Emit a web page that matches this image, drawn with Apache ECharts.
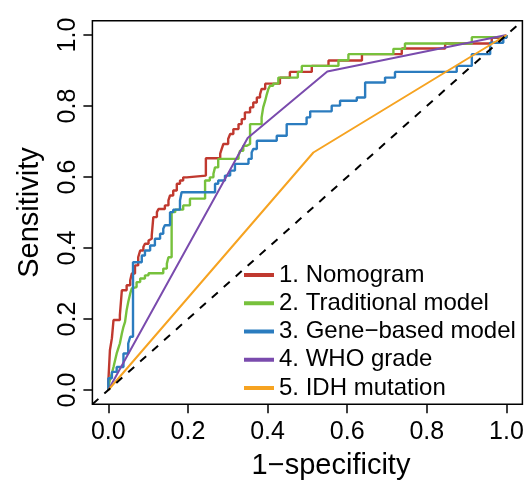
<!DOCTYPE html>
<html>
<head>
<meta charset="utf-8">
<script src="https://cdn.jsdelivr.net/npm/echarts@6/dist/echarts.min.js"></script>
<style>
  html, body { margin: 0; padding: 0; background: #fff; }
  #chart { width: 531px; height: 483px; }
</style>
</head>
<body>
<div id="chart"></div>
<script>
// ── Data ──────────────────────────────────────────────────────────────
// Step curves: x of each vertical riser and the sensitivity reached at its top
const nomogramFpr = [0, 0.004, 0.009, 0.013, 0.029, 0.034, 0.046, 0.055, 0.059, 0.067, 0.075, 0.080, 0.088, 0.092, 0.101, 0.105, 0.109, 0.113, 0.122, 0.126, 0.142, 0.151, 0.155, 0.163, 0.172, 0.180, 0.188, 0.197, 0.245, 0.281, 0.285, 0.289, 0.301, 0.306, 0.314, 0.327, 0.335, 0.343, 0.356, 0.364, 0.373, 0.381, 0.385, 0.394, 0.431, 0.456, 0.511, 0.553, 0.637, 0.737, 0.846, 0.963, 1];
const nomogramTpr = [0.023, 0.112, 0.146, 0.197, 0.211, 0.281, 0.295, 0.309, 0.328, 0.351, 0.374, 0.393, 0.403, 0.412, 0.421, 0.426, 0.435, 0.487, 0.501, 0.510, 0.520, 0.534, 0.548, 0.562, 0.581, 0.590, 0.599, 0.604, 0.653, 0.666, 0.680, 0.693, 0.707, 0.721, 0.735, 0.749, 0.763, 0.782, 0.796, 0.810, 0.824, 0.833, 0.848, 0.863, 0.880, 0.896, 0.913, 0.928, 0.946, 0.962, 0.976, 0.992, 1];

const traditionalFpr = [0, 0.004, 0.009, 0.013, 0.017, 0.021, 0.025, 0.029, 0.034, 0.038, 0.042, 0.046, 0.050, 0.055, 0.059, 0.063, 0.071, 0.080, 0.092, 0.101, 0.138, 0.147, 0.151, 0.159, 0.168, 0.188, 0.205, 0.243, 0.255, 0.264, 0.268, 0.276, 0.327, 0.331, 0.339, 0.348, 0.356, 0.385, 0.389, 0.394, 0.398, 0.402, 0.406, 0.414, 0.427, 0.476, 0.486, 0.578, 0.603, 0.716, 0.745, 0.913, 1];
const traditionalTpr = [0.009, 0.028, 0.047, 0.065, 0.084, 0.103, 0.117, 0.131, 0.159, 0.178, 0.192, 0.225, 0.248, 0.272, 0.286, 0.290, 0.304, 0.314, 0.323, 0.329, 0.342, 0.356, 0.374, 0.501, 0.508, 0.520, 0.539, 0.590, 0.599, 0.609, 0.627, 0.651, 0.660, 0.674, 0.688, 0.693, 0.749, 0.768, 0.796, 0.815, 0.833, 0.848, 0.857, 0.863, 0.880, 0.896, 0.913, 0.929, 0.946, 0.961, 0.976, 0.994, 1];

const geneFpr = [0, 0.009, 0.021, 0.038, 0.050, 0.055, 0.062, 0.084, 0.092, 0.105, 0.117, 0.130, 0.138, 0.142, 0.155, 0.163, 0.180, 0.184, 0.268, 0.276, 0.293, 0.306, 0.318, 0.352, 0.360, 0.364, 0.373, 0.423, 0.448, 0.498, 0.507, 0.561, 0.582, 0.624, 0.645, 0.695, 0.720, 0.875, 0.913, 0.959, 0.992, 1];
const geneTpr = [0.033, 0.051, 0.065, 0.103, 0.131, 0.150, 0.360, 0.379, 0.393, 0.407, 0.426, 0.440, 0.454, 0.464, 0.501, 0.508, 0.534, 0.557, 0.581, 0.590, 0.604, 0.618, 0.637, 0.651, 0.669, 0.679, 0.702, 0.716, 0.749, 0.768, 0.785, 0.801, 0.815, 0.824, 0.866, 0.880, 0.896, 0.913, 0.946, 0.978, 0.992, 1];

// Straight-segment curves: ROC points
const whoFpr = [0, 0.35, 0.55, 1];
const whoTpr = [0, 0.71, 0.897, 1];
const idhFpr = [0, 0.515, 1];
const idhTpr = [0, 0.669, 1];

const diagonal = [-0.04, 1.04];
const tickValues = [0, 0.2, 0.4, 0.6, 0.8, 1];
const legendNames = ['1. Nomogram', '2. Traditional model', '3. Gene\u2212based model', '4. WHO grade', '5. IDH mutation'];

// ── Style ─────────────────────────────────────────────────────────────
const font = 'Liberation Sans';
const colors = ['#C0392F', '#77C13C', '#2B7CBF', '#7A4BAD', '#F6A321'];

function staircase(fpr, tpr) {
  const pts = [[0, 0]];
  let prev = 0;
  fpr.forEach((x, i) => { pts.push([x, prev]); pts.push([x, tpr[i]]); prev = tpr[i]; });
  return pts;
}
const zip = (xs, ys) => xs.map((x, i) => [x, ys[i]]);

const curves = [
  staircase(nomogramFpr, nomogramTpr),
  staircase(traditionalFpr, traditionalTpr),
  staircase(geneFpr, geneTpr),
  zip(whoFpr, whoTpr),
  zip(idhFpr, idhTpr),
];

const axisCommon = {
  type: 'value', min: -0.04, max: 1.04,
  axisLine: { show: false, onZero: false },
  axisTick: { show: true, length: 9, customValues: tickValues, lineStyle: { color: '#000', width: 1.5 } },
  splitLine: { show: false },
};

const chart = echarts.init(document.getElementById('chart'), null, { renderer: 'canvas' });
chart.setOption({
  animation: false,
  backgroundColor: '#fff',
  grid: { left: 92.4, right: 8.6, top: 20.8, bottom: 78.8, show: true,
          borderColor: '#000', borderWidth: 1.5, backgroundColor: 'transparent' },
  xAxis: Object.assign({}, axisCommon, {
    axisLabel: { customValues: tickValues, formatter: v => v.toFixed(1), margin: 15,
                 fontSize: 25, fontFamily: font, color: '#000' },
  }),
  yAxis: Object.assign({}, axisCommon, {
    name: 'Sensitivity', nameLocation: 'middle', nameGap: 48,
    nameTextStyle: { fontSize: 29, fontFamily: font, color: '#000' },
    axisLabel: { customValues: tickValues, formatter: v => v.toFixed(1), margin: 12, rotate: 90,
                 fontSize: 25, fontFamily: font, color: '#000' },
  }),
  legend: {
    orient: 'vertical', left: 239, top: 258,
    itemWidth: 30, itemHeight: 4, itemGap: 4.25, icon: 'rect',
    selectedMode: false,
    textStyle: { fontSize: 24, lineHeight: 24, fontFamily: font, color: '#000' },
    data: legendNames,
  },
  graphic: [{
    type: 'text', x: 331, y: 466,
    style: { text: '1\u2212specificity', font: '29px "' + font + '"', fill: '#000',
             align: 'center', verticalAlign: 'middle' },
  }],
  series: curves.map((pts, i) => ({
    name: legendNames[i], type: 'line', data: pts,
    showSymbol: false, symbol: 'none', clip: true,
    lineStyle: { color: colors[i], width: i < 3 ? 2.4 : 2 },
    itemStyle: { color: colors[i] },
  })).concat([{
    name: 'diagonal', type: 'line', data: zip(diagonal, diagonal),
    showSymbol: false, symbol: 'none', clip: true,
    lineStyle: { color: '#000', width: 2, type: [8, 8] },
    itemStyle: { color: '#000' },
  }]),
});
</script>
</body>
</html>
